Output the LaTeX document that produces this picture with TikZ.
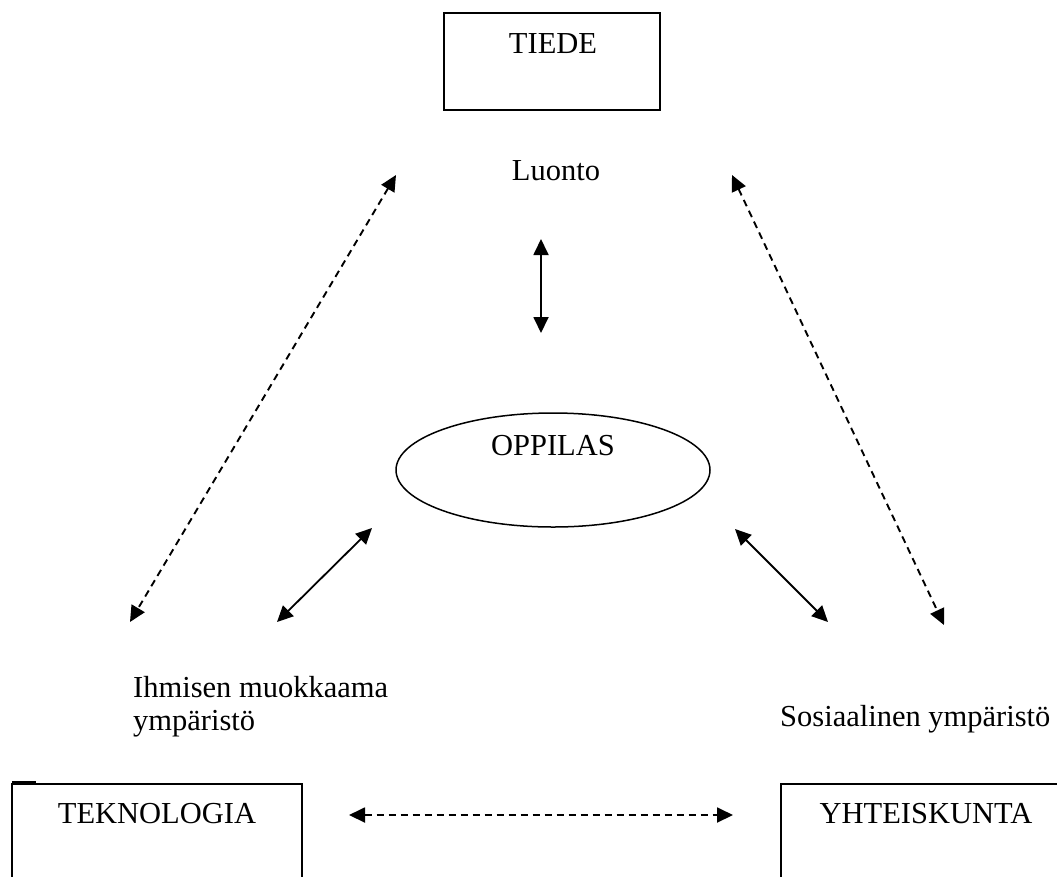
\documentclass[tikz,border=0pt]{standalone}
\usepackage{fontspec}
\setmainfont{Liberation Serif}
\usetikzlibrary{arrows.meta,shapes.geometric}
\begin{document}
\begin{tikzpicture}[x=1pt,y=-1pt,
  lbl/.style={font=\fontsize{30.5}{35}\selectfont, inner sep=0pt},
  boxline/.style={draw, line width=1.5pt},
  tipboth/.style={{Triangle[length=16pt,width=15pt]}-{Triangle[length=16pt,width=15pt]}},
  solidarrow/.style={tipboth, line width=1.8pt},
  dasharrow/.style={tipboth, line width=1.9pt, dash pattern=on 7pt off 5pt}]
\useasboundingbox (0,0) rectangle (1057,876);
\clip (0,0) rectangle (1057,876);
\fill[white] (0,0) rectangle (1057,876);
% boxes
\draw[boxline] (444,13) rectangle (660,110);
\draw[boxline] (12,784) rectangle (302,890);
\draw[boxline] (781,784) rectangle (1070,890);
\draw[line width=1.5pt] (12,782) -- (36,782);
% texts
\node[lbl] (tiede) at (553,44) {TIEDE};
\node[lbl] (luonto) at (556,171) {Luonto};
\node[lbl] (oppilas) at (553,446) {OPPILAS};
\node[draw, line width=1.5pt, ellipse, minimum width=314pt, minimum height=114pt] (ell) at (553,470) {};
\node[lbl, align=left, anchor=west] (ihm) at (133,707) {Ihmisen muokkaama\\[-2pt]ympäristö};
\node[lbl, anchor=west] (sos) at (780,719) {Sosiaalinen ympäristö};
\node[lbl] (tekno) at (157,814) {TEKNOLOGIA};
\node[lbl] (yht) at (926,814) {YHTEISKUNTA};
% arrow endpoints
\coordinate (v1) at (541,239);
\coordinate (v2) at (541,333);
\coordinate (dl1) at (396,175);
\coordinate (dl2) at (130,622);
\coordinate (dr1) at (732,175);
\coordinate (dr2) at (944,625);
\coordinate (sl1) at (372,528);
\coordinate (sl2) at (277,622);
\coordinate (sr1) at (735,529);
\coordinate (sr2) at (828,622);
\coordinate (h1) at (349,815);
\coordinate (h2) at (733,815);
% connectors
\draw[solidarrow] (v1) -- (v2);
\draw[solidarrow] (sl1) -- (sl2);
\draw[solidarrow] (sr1) -- (sr2);
\draw[dasharrow] (dl1) -- (dl2);
\draw[dasharrow] (dr1) -- (dr2);
\draw[dasharrow] (h1) -- (h2);
\end{tikzpicture}
\end{document}
